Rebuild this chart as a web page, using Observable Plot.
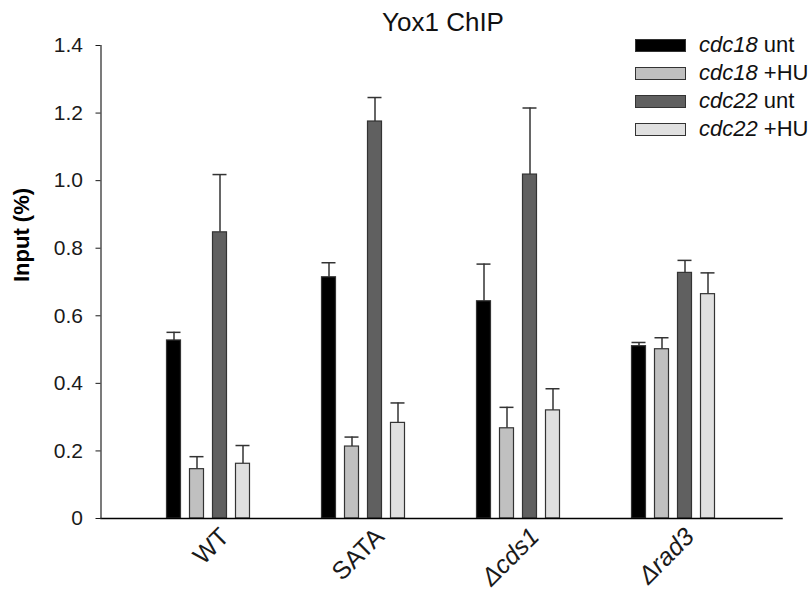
<!DOCTYPE html>
<html>
<head>
<meta charset="utf-8">
<script src="https://cdn.jsdelivr.net/npm/d3@7"></script>
<script src="https://cdn.jsdelivr.net/npm/@observablehq/plot@0.6"></script>
<style>
  html, body { margin: 0; padding: 0; background: #fff; }
  #wrap { position: relative; width: 812px; height: 595px; font-family: "Liberation Sans", Arial, sans-serif; }
  #title { position: absolute; left: 343px; width: 200px; top: 7px; text-align: center; font-size: 26px; color: #111; line-height: 30px; }
  #legend { position: absolute; left: 635px; top: 31px; }
  .row { display: flex; align-items: center; height: 28px; }
  .sw { width: 49px; height: 11px; border: 1.5px solid #333; margin-right: 13px; }
  .lab { font-size: 22px; color: #111; white-space: nowrap; line-height: 28px; }
  #chart { position: absolute; left: 0; top: 0; }
</style>
</head>
<body>
<div id="wrap">
  <div id="chart"></div>
  <div id="title">Yox1 ChIP</div>
  <div id="legend"></div>
</div>
<script>
// ---- data ----
const groups = ["WT", "SATA", "Δcds1", "Δrad3"];
const series = ["cdc18 unt", "cdc18 +HU", "cdc22 unt", "cdc22 +HU"];
const colors = ["#000000", "#c0c0c0", "#606060", "#e0e0e0"];

const cdc18Unt = [0.527, 0.714, 0.643, 0.510];
const cdc18HU  = [0.146, 0.213, 0.267, 0.501];
const cdc22Unt = [0.847, 1.175, 1.018, 0.727];
const cdc22HU  = [0.162, 0.283, 0.320, 0.664];

const cdc18UntErr = [0.024, 0.043, 0.110, 0.011];
const cdc18HUErr  = [0.037, 0.028, 0.062, 0.034];
const cdc22UntErr = [0.171, 0.071, 0.197, 0.037];
const cdc22HUErr  = [0.054, 0.059, 0.064, 0.063];

const yTicks = [0, 0.2, 0.4, 0.6, 0.8, 1.0, 1.2, 1.4];

const seriesValues = [cdc18Unt, cdc18HU, cdc22Unt, cdc22HU];
const seriesErrors = [cdc18UntErr, cdc18HUErr, cdc22UntErr, cdc22HUErr];

const table = [];
groups.forEach((g, gi) => {
  series.forEach((s, si) => {
    const v = seriesValues[si][gi];
    const e = seriesErrors[si][gi];
    table.push({group: g, series: s, value: v, top: v + e});
  });
});

const outer = 30.5; // axis overhang beyond the outer groups

const chart = Plot.plot({
  width: 812,
  height: 595,
  marginLeft: 100 + outer,
  marginRight: 31 + outer,
  marginTop: 45,
  marginBottom: 77,
  style: {fontFamily: '"Liberation Sans", Arial, sans-serif', color: "#1a1a1a", background: "transparent", overflow: "visible"},
  fx: {domain: groups, paddingInner: 0, paddingOuter: 0, label: null},
  x: {domain: series, paddingInner: 0.38, paddingOuter: 1.49, axis: null},
  y: {domain: [0, 1.4], label: null},
  color: {domain: series, range: colors},
  marks: [
    Plot.ruleX(table, {fx: "group", x: "series", y1: "value", y2: "top", stroke: "#333", strokeWidth: 1.5}),
    Plot.tickY(table, {fx: "group", x: "series", y: "top", stroke: "#333", strokeWidth: 1.5}),
    Plot.barY(table, {fx: "group", x: "series", y: "value", fill: "series", stroke: "#333", strokeWidth: 1.2}),
    Plot.frame({anchor: "bottom", facet: "super", insetLeft: -outer, insetRight: -outer, stroke: "#000", strokeWidth: 1.5}),
    Plot.frame({anchor: "left", facet: "super", insetLeft: -outer, stroke: "#222", strokeWidth: 1.2}),
    Plot.axisY({ticks: yTicks, tickFormat: d => d === 0 ? "0" : d.toFixed(1), tickSize: 5, tickPadding: 13, dx: -outer, fontSize: 21, label: null}),
    Plot.axisFx({anchor: "bottom", tickRotate: -45, tickSize: 0, tickPadding: 14, dx: 16, fontSize: 25, label: null}),
    Plot.text(["Input (%)"], {facet: "super", frameAnchor: "left", dx: -110, rotate: -90, fontSize: 22, fill: "#000", fontWeight: "bold"})
  ]
});
document.getElementById("chart").appendChild(chart);

// italics for deletion strains
d3.select(chart).selectAll("text").filter(function () {
  return this.textContent.startsWith("Δ");
}).style("font-style", "italic");

// legend
const legend = d3.select("#legend");
series.forEach((s, i) => {
  const row = legend.append("div").attr("class", "row");
  row.append("div").attr("class", "sw").style("background", colors[i]);
  const parts = s.split(" ");
  const lab = row.append("div").attr("class", "lab");
  lab.append("i").text(parts[0]);
  lab.append("span").text(" " + parts.slice(1).join(" "));
});
</script>
</body>
</html>
